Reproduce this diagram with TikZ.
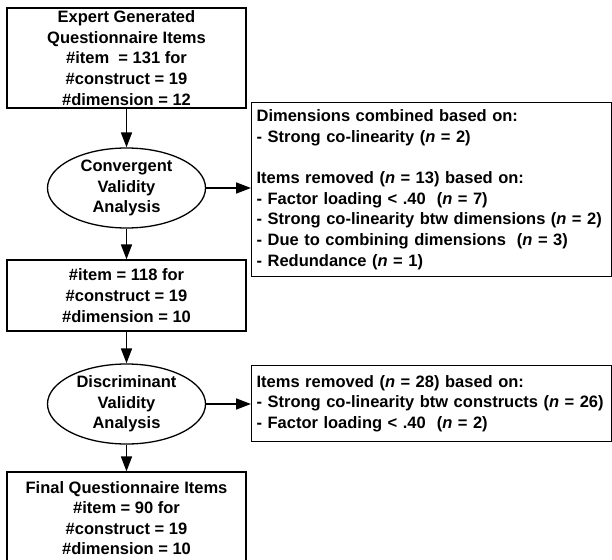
\documentclass[tikz,border=0pt]{standalone}
\usepackage{fontspec}
\setmainfont{Liberation Sans}
\usetikzlibrary{shapes.geometric,arrows.meta}

\tikzset{
    flowtext/.style={font=\bfseries\fontsize{16.5pt}{20.6pt}\selectfont},
    stepbox/.style={flowtext, draw, line width=1.3pt, minimum width=239pt, align=center, inner sep=0pt},
    analysis/.style={flowtext, draw, ellipse, line width=1.3pt, minimum width=158pt, minimum height=80pt, align=center, inner sep=0pt},
    notebox/.style={flowtext, draw, line width=1.3pt, anchor=north west, text width=350pt, inner xsep=5pt, align=left},
    flow/.style={line width=1.7pt, -{Triangle[length=15pt,width=11pt]}}
}

\begin{document}
\begin{tikzpicture}[x=1pt,y=1pt]
    \clip (0,0) rectangle (612,-559);

    % main column
    \node[stepbox, minimum height=100pt] (expert) at (126.5,-58)
      {Expert Generated\\Questionnaire Items\\\#item\ \ = 131 for\\\#construct = 19\\\#dimension = 12};
    \node[analysis] (convergent) at (126.5,-188) {Convergent\\Validity\\Analysis};
    \node[stepbox, minimum height=71pt] (middle) at (126.5,-295.5)
      {\#item = 118 for\\\#construct = 19\\\#dimension = 10};
    \node[analysis, minimum height=78pt] (discriminant) at (126.5,-404) {Discriminant\\Validity\\Analysis};
    \node[stepbox, minimum height=92pt] (final) at (126.5,-518)
      {Final Questionnaire Items\\\#item = 90 for\\\#construct = 19\\\#dimension = 10};

    % side notes
    \node[notebox, minimum height=174pt] (convnote) at (251,-102)
      {Dimensions combined based on:\\
       - Strong co-linearity (\textit{n} = 2)\\[20.6pt]
       Items removed (\textit{n} = 13) based on:\\
       - Factor loading < .40\ \ (\textit{n} = 7)\\
       - Strong co-linearity btw dimensions (\textit{n} = 2)\\
       - Due to combining dimensions\ \ (\textit{n} = 3)\\
       - Redundance (\textit{n} = 1)};
    \node[notebox, minimum height=76pt] (discnote) at (251,-365)
      {Items removed (\textit{n} = 28) based on:\\
       - Strong co-linearity btw constructs (\textit{n} = 26)\\
       - Factor loading < .40\ \ (\textit{n} = 2)};

    % connectors
    \draw[flow] (expert) -- (convergent);
    \draw[flow] (convergent) -- (middle);
    \draw[flow] (middle) -- (discriminant);
    \draw[flow] (discriminant) -- (final);
    \draw[flow] (convergent.east) -- (convergent.east -| convnote.west);
    \draw[flow] (discriminant.east) -- (discriminant.east -| discnote.west);

\end{tikzpicture}
\end{document}
